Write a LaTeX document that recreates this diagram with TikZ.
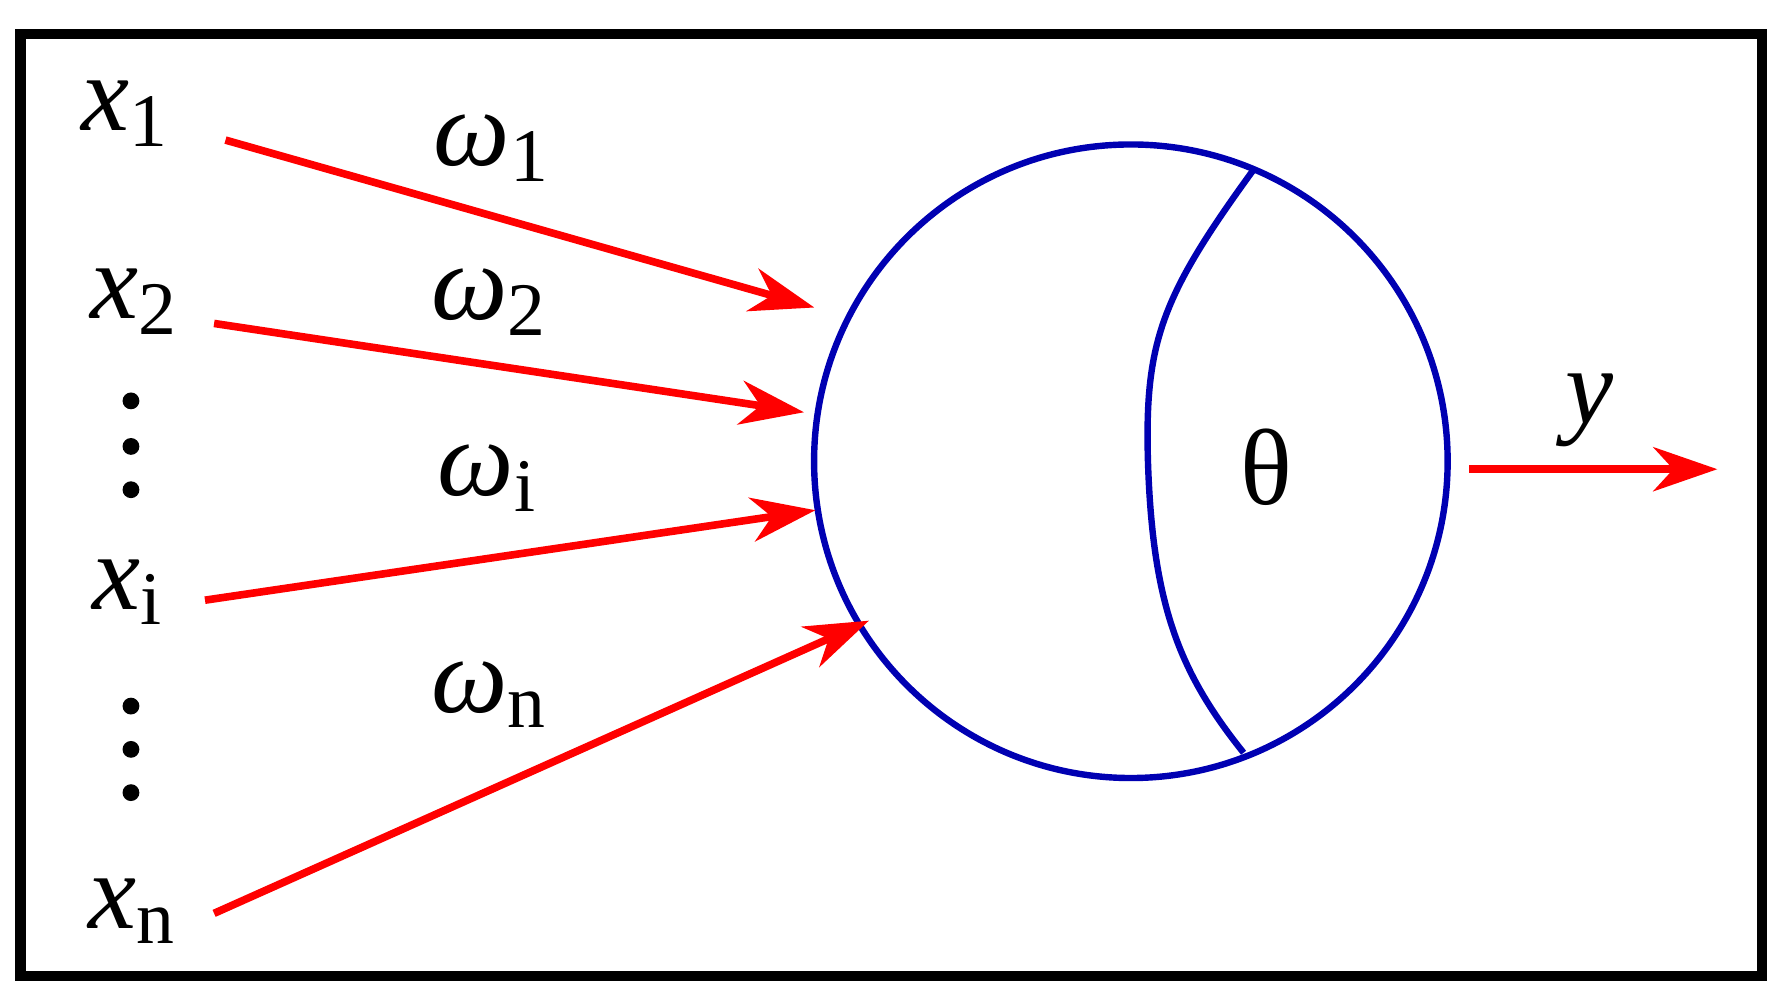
\documentclass[tikz,border=0pt]{standalone}
\usepackage{fontspec}
\setmainfont{Liberation Serif}
\usetikzlibrary{arrows.meta}
\begin{document}
\begin{tikzpicture}[x=0.01cm,y=-0.01cm,
  lbl/.style={inner sep=0pt,font=\fontsize{27}{30}\selectfont},
  edge/.style={red,line width=1.9pt,-{Stealth[length=16pt,width=11pt,inset=5pt]}},
  dot/.style={circle,fill=black,inner sep=0pt,minimum size=4.2pt}]
\useasboundingbox (0,0) rectangle (1563,875);
\draw[line width=2.6pt] (18,30) rectangle (1547,857);
\node[draw=blue!70!black,line width=1.6pt,circle,minimum size=5.56cm,inner sep=0pt] (c) at (993,405) {};
\draw[blue!70!black,line width=1.6pt] (1100,150) .. controls (1020,260) and (1005,300) .. (1008,405) .. controls (1012,530) and (1035,590) .. (1092,661);
\node[lbl] (x1) at (110,100) {\textit{x}\textsubscript{1}};
\node[lbl] (x2) at (118,265) {\textit{x}\textsubscript{2}};
\node[lbl] (xi) at (112,520) {\textit{x}\textsubscript{i}};
\node[lbl] (xn) at (116,800) {\textit{x}\textsubscript{n}};
\foreach \yy [count=\k] in {352,392,430,620,658,696} \node[dot] (d\k) at (115,\yy) {};
\node[lbl] (w1) at (432,130) {\textit{ω}\textsubscript{1}};
\node[lbl] (w2) at (430,265) {\textit{ω}\textsubscript{2}};
\node[lbl] (wi) at (428,420) {\textit{ω}\textsubscript{i}};
\node[lbl] (wn) at (430,610) {\textit{ω}\textsubscript{n}};
\node[lbl] (th) at (1112,410) {θ};
\node[lbl] (y) at (1396,360) {\textit{y}};
\coordinate (s1) at (198,123); \coordinate (e1) at (715,270);
\coordinate (s2) at (188,284); \coordinate (e2) at (706,362);
\coordinate (s3) at (180,527); \coordinate (e3) at (716,448);
\coordinate (s4) at (188,802); \coordinate (e4) at (763,545);
\coordinate (so) at (1290,412); \coordinate (eo) at (1508,412);
\draw[edge] (s1) -- (e1);
\draw[edge] (s2) -- (e2);
\draw[edge] (s3) -- (e3);
\draw[edge] (s4) -- (e4);
\draw[edge] (so) -- (eo);
\end{tikzpicture}
\end{document}
